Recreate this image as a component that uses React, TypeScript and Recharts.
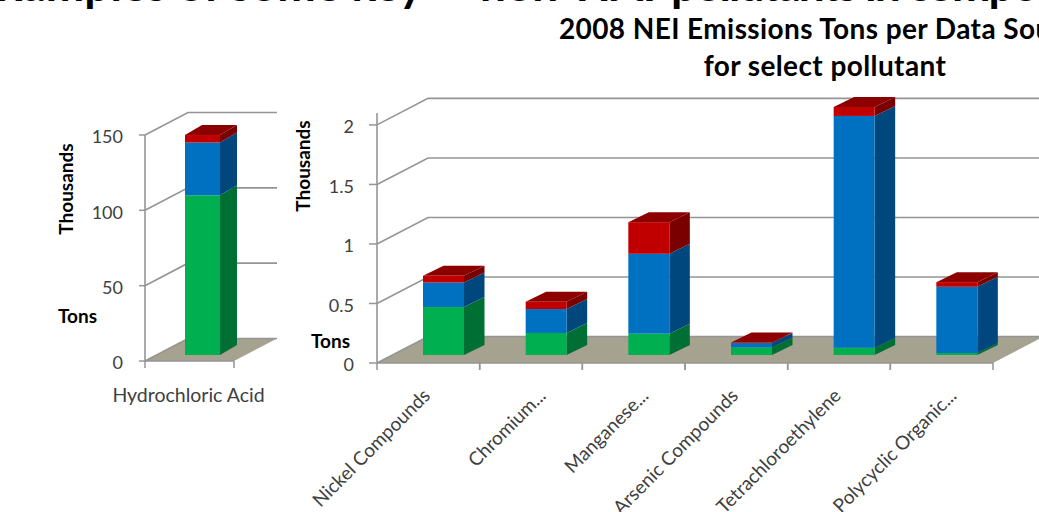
import React from "react";
import { BarChart, Bar, XAxis, YAxis, CartesianGrid } from "recharts";

// Single-pollutant panel
const leftCategories = ["Hydrochloric Acid"];
const leftLower = [106];
const leftMiddle = [35];
const leftUpper = [5];
const leftTicks = [0, 50, 100, 150];

// Six-pollutant panel
const mainCategories = [
  "Nickel Compounds",
  "Chromium...",
  "Manganese...",
  "Arsenic Compounds",
  "Tetrachloroethylene",
  "Polycyclic Organic...",
];
const mainLower = [0.403, 0.185, 0.179, 0.064, 0.061, 0.017];
const mainMiddle = [0.206, 0.201, 0.671, 0.036, 1.947, 0.556];
const mainUpper = [0.056, 0.061, 0.266, 0.004, 0.075, 0.039];
const mainTicks = [0, 0.5, 1, 1.5, 2];

const FONT = "Lato, 'Open Sans', sans-serif";
const GRID = "#959595";
const FLOOR = "#a6a290";
const TICK_TEXT = "#404040";

const GREEN = { front: "#00b050", side: "#006f33", top: "#006f33" };
const BLUE = { front: "#0070c0", side: "#00477e", top: "#00477e" };
const RED = { front: "#c00000", side: "#7a0000", top: "#8c0000" };

type Palette = typeof GREEN;
type Depth = { dx: number; dy: number };

const table = (cats: string[], a: number[], b: number[], c: number[]) =>
  cats.map((name, i) => ({ name, lower: a[i], middle: b[i], upper: c[i] }));

// Extruded bar segment: front face, right side and, for the top of a stack, the lid.
const boxShape =
  (colors: Palette, depth: Depth, shiftX: number, shiftY: number, lid: boolean) =>
  (props: any) => {
    const { x, y, width, height } = props;
    const l = x + shiftX;
    const r = l + width;
    const t = y + shiftY;
    const b = t + height;
    const { dx, dy } = depth;
    return (
      <g>
        <polygon
          points={`${r},${t} ${r + dx},${t - dy} ${r + dx},${b - dy} ${r},${b}`}
          fill={colors.side}
        />
        {lid && (
          <polygon
            points={`${l},${t} ${l + dx},${t - dy} ${r + dx},${t - dy} ${r},${t}`}
            fill={colors.top}
          />
        )}
        <rect x={l} y={t} width={width} height={height} fill={colors.front} />
      </g>
    );
  };

// Gridline bent back along the side wall; the zero line also carries the floor.
const wallLine = (wall: Depth) => (props: any) => {
  const { x1, x2, y1, index } = props;
  const bx = x1 + wall.dx;
  const by = y1 - wall.dy;
  return (
    <g key={`wall-${index}-${y1}`}>
      {Math.abs(y1 - props.zeroY) < 1 && (
        <polygon
          points={`${x1},${y1} ${x2},${y1} ${x2 + wall.dx},${by} ${bx},${by}`}
          fill={FLOOR}
        />
      )}
      <polyline
        points={`${x1},${y1} ${bx},${by} ${x2 + wall.dx},${by}`}
        fill="none"
        stroke={GRID}
        strokeWidth={1.6}
      />
    </g>
  );
};

// Category tick: marks sit on the band edges, the label is slanted or level.
const bandTick =
  (halfBand: number, slanted: boolean) =>
  (props: any) => {
    const { x, y, payload } = props;
    const label: string = payload.value;
    const clipped = label.endsWith("...");
    const marks = [x - halfBand, x + halfBand];
    const ex = x + (clipped ? 16 : 3);
    const ey = y + 26;
    return (
      <g>
        {marks.map((m) => (
          <line key={m} x1={m} x2={m} y1={y - 8} y2={y - 1} stroke={GRID} strokeWidth={1.5} />
        ))}
        {slanted ? (
          <text
            x={ex}
            y={ey}
            transform={`rotate(-45 ${ex} ${ey})`}
            textAnchor="end"
            fontFamily={FONT}
            fontSize={19}
            fill={TICK_TEXT}
          >
            {label}
          </text>
        ) : (
          <text
            x={x - 1}
            y={y + 33}
            textAnchor="middle"
            fontFamily={FONT}
            fontSize={19.5}
            fill={TICK_TEXT}
          >
            {label}
          </text>
        )}
      </g>
    );
  };

const App = () => {
  const leftWall = { dx: 43, dy: 22.5 };
  const mainWall = { dx: 51, dy: 26.5 };
  const leftBox = { dx: 17, dy: 10 };
  const mainBox = { dx: 20.5, dy: 10 };
  const yTick = { fontFamily: FONT, fontSize: 18, fill: TICK_TEXT, dy: 2 };
  const axisLine = { stroke: GRID, strokeWidth: 1.6 };
  const tickLine = { stroke: GRID, strokeWidth: 1.5 };

  return (
    <div
      style={{
        position: "absolute",
        left: 0,
        top: 0,
        width: 1039,
        height: 512,
        overflow: "hidden",
        background: "#fff",
      }}
    >
      <div style={{ position: "absolute", left: 0, top: 0 }}>
        <BarChart
          width={300}
          height={420}
          data={table(leftCategories, leftLower, leftMiddle, leftUpper)}
          margin={{ top: 135, right: 66, bottom: 0, left: 60 }}
          barSize={35}
        >
          <CartesianGrid
            vertical={false}
            syncWithTicks
            horizontal={(p: any) => wallLine(leftWall)({ ...p, zeroY: 361 })}
          />
          <XAxis
            dataKey="name"
            height={59}
            interval={0}
            axisLine={axisLine}
            tickLine={false}
            tick={bandTick(44.5, false)}
          />
          <YAxis
            type="number"
            width={85}
            domain={[0, 150]}
            ticks={leftTicks}
            interval={0}
            axisLine={axisLine}
            tickLine={tickLine}
            tickSize={6}
            tickMargin={16}
            tick={yTick}
          />
          <Bar dataKey="lower" stackId="s" isAnimationActive={false} shape={boxShape(GREEN, leftBox, 13, -6, false)} />
          <Bar dataKey="middle" stackId="s" isAnimationActive={false} shape={boxShape(BLUE, leftBox, 13, -6, false)} />
          <Bar dataKey="upper" stackId="s" isAnimationActive={false} shape={boxShape(RED, leftBox, 13, -6, true)} />
        </BarChart>
      </div>

      <div style={{ position: "absolute", left: 0, top: 0 }}>
        <BarChart
          width={1039}
          height={512}
          data={table(mainCategories, mainLower, mainMiddle, mainUpper)}
          margin={{ top: 113, right: 46, bottom: 0, left: 292 }}
          barSize={41}
          style={{ pointerEvents: "none" }}
        >
          <CartesianGrid
            vertical={false}
            syncWithTicks
            horizontal={(p: any) => wallLine(mainWall)({ ...p, zeroY: 363 })}
          />
          <XAxis
            dataKey="name"
            height={149}
            interval={0}
            axisLine={axisLine}
            tickLine={false}
            tick={bandTick(51.33, true)}
          />
          <YAxis
            type="number"
            width={85}
            domain={[0, 2.1]}
            ticks={mainTicks}
            interval={0}
            axisLine={axisLine}
            tickLine={tickLine}
            tickSize={8}
            tickMargin={15}
            tick={yTick}
          />
          <Bar dataKey="lower" stackId="s" isAnimationActive={false} shape={boxShape(GREEN, mainBox, 15, -8, false)} />
          <Bar dataKey="middle" stackId="s" isAnimationActive={false} shape={boxShape(BLUE, mainBox, 15, -8, false)} />
          <Bar dataKey="upper" stackId="s" isAnimationActive={false} shape={boxShape(RED, mainBox, 15, -8, true)} />
        </BarChart>
      </div>

      <svg
        width={1039}
        height={512}
        style={{ position: "absolute", left: 0, top: 0, pointerEvents: "none" }}
        fontFamily={FONT}
      >
        <g fontSize={46} fontWeight={700} fill="#000">
          <text x={-28} y={0.5}>Examples of some key</text>
          <text x={480} y={0.5}>non-HAP</text>
          <text x={671} y={0.5} letterSpacing={-2}>pollutants in compounds</text>
        </g>
        <g fontSize={28} fontWeight={700} fill="#000" textAnchor="middle" letterSpacing={0.4}>
          <text x={825} y={39}>2008 NEI Emissions Tons per Data Source</text>
          <text x={825} y={76}>for select pollutant</text>
        </g>
        <g fontSize={19} fontWeight={700} fill="#000">
          <text transform="translate(73 189) rotate(-90)" textAnchor="middle">Thousands</text>
          <text transform="translate(310 166) rotate(-90)" textAnchor="middle">Thousands</text>
          <text x={58} y={323}>Tons</text>
          <text x={311} y={348}>Tons</text>
        </g>
      </svg>
    </div>
  );
};

export default App;
